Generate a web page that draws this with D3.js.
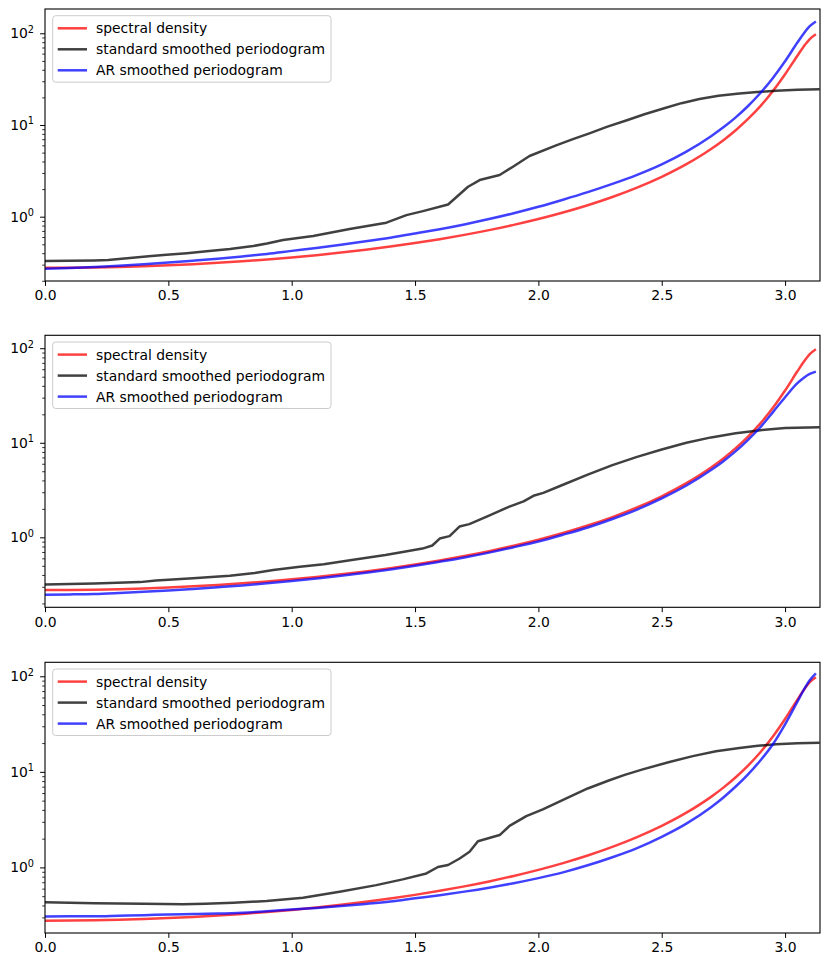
<!DOCTYPE html>
<html><head><meta charset="utf-8">
<script src="https://cdn.jsdelivr.net/npm/d3@7"></script>
<style>
body{margin:0;background:#fff}
svg{display:block}
text{font-family:"DejaVu Sans",sans-serif;fill:#000}
</style>
</head><body><svg id="c" width="830" height="967"></svg>
<script>
// ---------- data ----------
const seriesNames = ["spectral density", "standard smoothed periodogram", "AR smoothed periodogram"];
const xTicks = [0, 0.5, 1.0, 1.5, 2.0, 2.5, 3.0];
const yMajorTicks = [1, 10, 100];
const yMajorExps = ["0", "1", "2"];
const yDomains = [[0.199, 184], [0.182, 137], [0.206, 140]];

const freqs = [0,0.1,0.2,0.3,0.4,0.5,0.6,0.7,0.8,0.9,1.0,1.1,1.2,1.3,1.4,1.5,1.6,1.7,1.8,1.9,2.0,2.1,2.2,2.3,2.4,2.5,2.6,2.7,2.75,2.8,2.85,2.9,2.95,3.0,3.05,3.075,3.1,3.125];
const spectralDensity = [0.277,0.2777,0.2798,0.2833,0.2884,0.2950,0.3034,0.3138,0.3264,0.3414,0.3594,0.3807,0.4061,0.4364,0.4726,0.5162,0.5690,0.6337,0.7138,0.8143,0.9426,1.110,1.332,1.638,2.072,2.718,3.737,5.473,6.835,8.772,11.63,16.05,23.3,35.7,57.0,71.4,86.6,97.6];

const arSmoothed1 = [0.270,0.275,0.283,0.292,0.303,0.316,0.331,0.348,0.369,0.393,0.424,0.457,0.495,0.539,0.591,0.656,0.731,0.824,0.942,1.091,1.282,1.532,1.851,2.277,2.859,3.724,5.12,7.55,9.43,12.11,16.11,22.31,32.4,49.6,79.2,98.9,119.5,134.7];
const arSmoothed2 = [0.247,0.249,0.252,0.258,0.265,0.274,0.285,0.297,0.310,0.326,0.345,0.367,0.392,0.423,0.458,0.501,0.552,0.612,0.689,0.786,0.905,1.066,1.272,1.564,1.968,2.582,3.531,5.145,6.391,8.158,10.76,14.61,20.97,30.35,42.75,48.5,53.5,56.6];
const arSmoothed3 = [0.307,0.308,0.308,0.312,0.316,0.322,0.325,0.329,0.336,0.348,0.363,0.377,0.394,0.415,0.440,0.475,0.512,0.558,0.614,0.684,0.773,0.888,1.052,1.278,1.595,2.093,2.877,4.269,5.40,7.02,9.42,13.16,19.34,31.4,54.2,71.4,90.9,107.4];

const stdFreqs1 = [0,0.1,0.2,0.256,0.344,0.42,0.493,0.575,0.655,0.75,0.844,0.9,0.965,1.087,1.235,1.384,1.465,1.532,1.634,1.715,1.762,1.843,1.897,1.964,2.072,2.14,2.207,2.28,2.356,2.43,2.51,2.58,2.653,2.73,2.815,2.9,2.963,3.05,3.14];
const stdSmoothed1 = [0.329,0.331,0.334,0.337,0.355,0.37,0.385,0.40,0.419,0.445,0.479,0.51,0.557,0.616,0.734,0.861,1.04,1.15,1.36,2.12,2.51,2.85,3.51,4.59,6.0,7.0,8.1,9.6,11.2,13.1,15.2,17.3,19.2,20.8,22.0,23.0,23.6,24.2,24.5];

const stdFreqs2 = [0,0.2,0.385,0.45,0.6,0.749,0.85,0.925,1.033,1.13,1.25,1.38,1.45,1.53,1.57,1.60,1.64,1.68,1.72,1.80,1.88,1.94,1.98,2.02,2.1,2.2,2.3,2.4,2.5,2.6,2.7,2.8,2.9,3.0,3.14];
const stdSmoothed2 = [0.318,0.325,0.336,0.35,0.37,0.393,0.42,0.451,0.489,0.52,0.58,0.65,0.70,0.76,0.82,0.97,1.03,1.30,1.38,1.70,2.10,2.40,2.75,2.95,3.6,4.6,5.8,7.1,8.5,10.0,11.4,12.6,13.6,14.3,14.6];

const stdFreqs3 = [0,0.2,0.4,0.56,0.65,0.763,0.898,1.046,1.2,1.343,1.45,1.546,1.593,1.634,1.681,1.721,1.755,1.843,1.883,1.951,2.018,2.126,2.2,2.288,2.35,2.423,2.531,2.626,2.72,2.815,2.89,2.963,3.05,3.14];
const stdSmoothed3 = [0.431,0.421,0.416,0.413,0.418,0.427,0.445,0.481,0.56,0.653,0.75,0.865,1.01,1.06,1.24,1.46,1.88,2.18,2.72,3.44,4.04,5.47,6.7,8.17,9.3,10.6,12.7,14.6,16.4,17.8,18.7,19.4,19.9,20.2];

const colors = ["#ff0000", "#000000", "#0000ff"];

// ---------- layout ----------
const left = 45, right = 820;
const panelTops = [9, 335.3, 662.3];
const panelBottoms = [281, 607.3, 933];
const LW = 2.5;

const svg = d3.select("#c");
const FS = 13.9;

const panels = [
  {std: [stdFreqs1, stdSmoothed1], ar: arSmoothed1},
  {std: [stdFreqs2, stdSmoothed2], ar: arSmoothed2},
  {std: [stdFreqs3, stdSmoothed3], ar: arSmoothed3}
];

panels.forEach((p, i) => {
  const top = panelTops[i], bottom = panelBottoms[i];
  const x = d3.scaleLinear().domain([0, Math.PI]).range([left, right]);
  const y = d3.scaleLog().domain(yDomains[i]).range([bottom, top]);
  const g = svg.append("g");

  const clipId = "clip" + i;
  g.append("clipPath").attr("id", clipId).append("rect")
    .attr("x", left).attr("y", top).attr("width", right - left).attr("height", bottom - top);

  const lineSmooth = d3.line().x(d => x(d[0])).y(d => y(d[1])).curve(d3.curveMonotoneX);
  const lineLin = d3.line().x(d => x(d[0])).y(d => y(d[1]));

  const redData = freqs.map((f, k) => [f, spectralDensity[k]]);
  const blackData = p.std[0].map((f, k) => [f, p.std[1][k]]);
  const blueData = freqs.map((f, k) => [f, p.ar[k]]);

  const plot = g.append("g").attr("clip-path", `url(#${clipId})`);
  plot.append("path").attr("d", lineSmooth(redData)).attr("fill", "none")
    .attr("stroke", colors[0]).attr("stroke-opacity", 0.75).attr("stroke-width", LW).attr("stroke-linejoin", "round");
  plot.append("path").attr("d", lineLin(blackData)).attr("fill", "none")
    .attr("stroke", colors[1]).attr("stroke-opacity", 0.75).attr("stroke-width", LW).attr("stroke-linejoin", "round");
  plot.append("path").attr("d", lineSmooth(blueData)).attr("fill", "none")
    .attr("stroke", colors[2]).attr("stroke-opacity", 0.75).attr("stroke-width", LW).attr("stroke-linejoin", "round");

  // x axis
  const xAxis = d3.axisBottom(x).tickValues(xTicks).tickFormat(d3.format(".1f"))
    .tickSizeInner(4.9).tickSizeOuter(0).tickPadding(4.6);
  const xg = g.append("g").attr("transform", `translate(0,${bottom})`).call(xAxis);
  xg.select(".domain").remove();
  xg.selectAll("line").attr("stroke", "#000").attr("stroke-width", 1);
  xg.selectAll("text").attr("font-size", FS).attr("font-family", "DejaVu Sans").attr("fill", "#000");

  // y minor ticks
  const [d0, d1] = yDomains[i];
  const minors = [];
  for (let e = -1; e <= 2; e++) for (let m = 2; m <= 9; m++) {
    const v = m * Math.pow(10, e);
    if (v >= d0 && v <= d1) minors.push(v);
  }
  const yMinor = d3.axisLeft(y).tickValues(minors).tickFormat("").tickSizeInner(2.8).tickSizeOuter(0);
  const ymg = g.append("g").attr("transform", `translate(${left},0)`).call(yMinor);
  ymg.select(".domain").remove();
  ymg.selectAll("line").attr("stroke", "#000").attr("stroke-width", 0.8);

  // y major ticks
  const yMajor = d3.axisLeft(y).tickValues(yMajorTicks).tickFormat("").tickSizeInner(4.9).tickSizeOuter(0);
  const yg = g.append("g").attr("transform", `translate(${left},0)`).call(yMajor);
  yg.select(".domain").remove();
  yg.selectAll("line").attr("stroke", "#000").attr("stroke-width", 1);
  yMajorTicks.forEach((v, k) => {
    const t = g.append("text").attr("x", left - 11).attr("y", y(v) + 5)
      .attr("text-anchor", "end").attr("font-size", FS);
    t.append("tspan").text("10");
    t.append("tspan").attr("dy", -5.6).attr("font-size", FS * 0.7).text(yMajorExps[k]);
  });

  // frame
  g.append("rect").attr("x", left).attr("y", top).attr("width", right - left).attr("height", bottom - top)
    .attr("fill", "none").attr("stroke", "#000").attr("stroke-width", 1.1);

  // legend
  const lg = g.append("g").attr("transform", `translate(${left + 7.7},${top + 6.7})`);
  lg.append("rect").attr("width", 278.3).attr("height", 66.5).attr("rx", 3)
    .attr("fill", "#fff").attr("fill-opacity", 0.8).attr("stroke", "#cccccc").attr("stroke-width", 1);
  seriesNames.forEach((name, k) => {
    const ry = 12.6 + k * 21;
    lg.append("line").attr("x1", 5).attr("x2", 34.3).attr("y1", ry).attr("y2", ry)
      .attr("stroke", colors[k]).attr("stroke-opacity", 0.75).attr("stroke-width", LW);
    lg.append("text").attr("x", 43.3).attr("y", ry + 5).attr("font-size", FS).text(name);
  });
});
</script>
</body></html>
